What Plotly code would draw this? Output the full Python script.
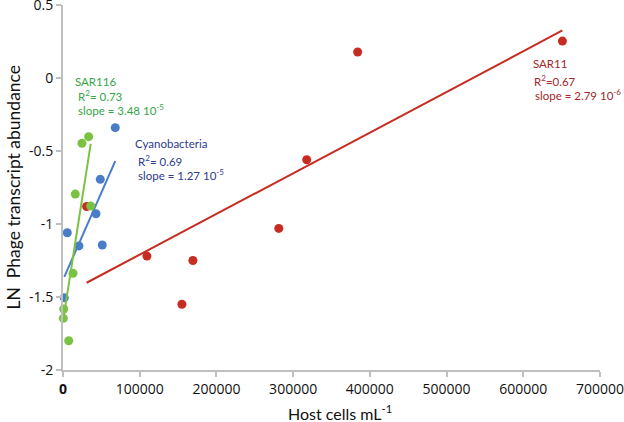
import numpy as np
import plotly.graph_objects as go

# ---- data ----
sar11_x = [30800, 109400, 155000, 169300, 281300, 317700, 384100, 651000]
sar11_y = [-0.88, -1.22, -1.55, -1.25, -1.03, -0.56, 0.178, 0.253]

cyano_x = [1700, 5600, 20800, 43000, 48600, 51200, 68100]
cyano_y = [-1.505, -1.06, -1.15, -0.93, -0.694, -1.144, -0.34]

sar116_x = [400, 900, 7400, 13000, 16000, 24700, 33400, 36100]
sar116_y = [-1.646, -1.582, -1.80, -1.338, -0.795, -0.447, -0.402, -0.877]

x_ticks = [0, 100000, 200000, 300000, 400000, 500000, 600000, 700000]
x_ticktext = ["<b>0</b>", "100000", "200000", "300000", "400000", "500000", "600000", "700000"]
y_ticks = [-2, -1.5, -1, -0.5, 0, 0.5]
y_ticktext = ["-2", "-1.5", "-1", "-0.5", "0", "0.5"]

RED = "#c62d20"
BLUE = "#4a7dc7"
GREEN = "#7cc242"
RED_TXT = "#a3272a"
BLUE_TXT = "#2e3b8f"
GREEN_TXT = "#34a548"
AX = "#bfbfbf"
ANN_FONT = "Lato"
TICK_FONT = "Open Sans"


def fit_line(xs, ys):
    xs = np.asarray(xs, float)
    ys = np.asarray(ys, float)
    k, b = np.polyfit(xs, ys, 1)
    xl = np.array([xs.min(), xs.max()])
    return xl, k * xl + b


fig = go.Figure()

for xs, ys, col in [(sar11_x, sar11_y, RED), (cyano_x, cyano_y, BLUE), (sar116_x, sar116_y, GREEN)]:
    fig.add_trace(go.Scatter(x=xs, y=ys, mode="markers",
                             marker=dict(color=col, size=9, line=dict(width=0)),
                             cliponaxis=False, hoverinfo="skip"))
    lx, ly = fit_line(xs, ys)
    fig.add_trace(go.Scatter(x=lx, y=ly, mode="lines",
                             line=dict(color=col, width=2),
                             cliponaxis=False, hoverinfo="skip"))

ann = []


def label(x, y, text, color):
    ann.append(dict(x=x, y=y, xref="x", yref="y", text=text, showarrow=False,
                    xanchor="left", yanchor="middle",
                    font=dict(family=ANN_FONT, size=11.5, color=color)))


label(13000, -0.021, "SAR116", GREEN_TXT)
label(16900, -0.123, "R<sup>2</sup>= 0.73", GREEN_TXT)
label(16900, -0.219, "slope = 3.48 10<sup>-5</sup>", GREEN_TXT)

label(91100, -0.452, "Cyanobacteria", BLUE_TXT)
label(95000, -0.562, "R<sup>2</sup>= 0.69", BLUE_TXT)
label(95000, -0.664, "slope = 1.27 10<sup>-5</sup>", BLUE_TXT)

label(610700, 0.096, "SAR11", RED_TXT)
label(612000, -0.014, "R<sup>2</sup>=0.67", RED_TXT)
label(613300, -0.116, "slope = 2.79 10<sup>-6</sup>", RED_TXT)

# axis titles
ann.append(dict(x=(340 - 63) / 537, y=(370 - 412) / 365, xref="paper", yref="paper",
                text="Host cells mL<sup>-1</sup>", showarrow=False,
                xanchor="center", yanchor="middle",
                font=dict(family=ANN_FONT, size=16, color="#111111")))
ann.append(dict(x=(13 - 63) / 537, y=0.5, xref="paper", yref="paper",
                text="LN  Phage transcript abundance", showarrow=False, textangle=-90,
                xanchor="center", yanchor="middle",
                font=dict(family=ANN_FONT, size=17.5, color="#111111")))

fig.update_layout(
    width=624, height=422,
    margin=dict(l=63, r=24, t=5, b=52),
    paper_bgcolor="white", plot_bgcolor="white",
    showlegend=False,
    annotations=ann,
    xaxis=dict(range=[0, 700000], tickvals=x_ticks, ticktext=x_ticktext,
               showgrid=False, zeroline=False, showline=True, linecolor=AX, linewidth=2,
               ticks="outside", ticklen=5, tickcolor=AX, tickwidth=1.5,
               ticklabeloverflow="allow", automargin=False,
               tickfont=dict(family=TICK_FONT, size=14, color="#111111")),
    yaxis=dict(range=[-2, 0.5], tickvals=y_ticks, ticktext=y_ticktext,
               showgrid=False, zeroline=False, showline=True, linecolor=AX, linewidth=2,
               ticks="outside", ticklen=5, tickcolor=AX, tickwidth=1.5,
               ticklabeloverflow="allow", automargin=False,
               tickfont=dict(family=TICK_FONT, size=14, color="#111111")),
)

fig.write_html("out.html", config={"displayModeBar": False},
               post_script="document.body.style.margin='0';document.body.style.padding='0';")
